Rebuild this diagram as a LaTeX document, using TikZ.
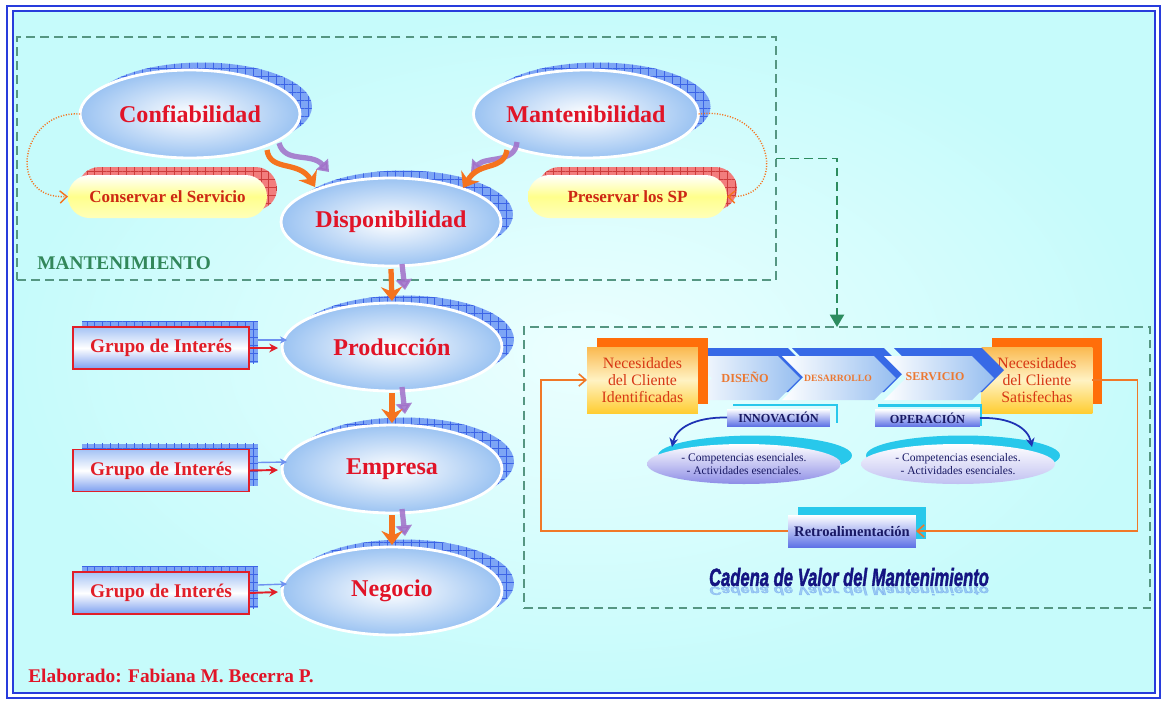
\documentclass[tikz,border=0pt]{standalone}
\usepackage{fontspec}
\usepackage{graphicx}
\setmainfont{Liberation Serif}
\newfontfamily\titlefont{Liberation Sans}[BoldItalicFeatures={FakeBold=2}]
\usetikzlibrary{arrows.meta,calc,patterns.meta,shapes.geometric,shadows}

\definecolor{bgcyan}{RGB}{198,251,251}
\definecolor{bglight}{RGB}{236,255,255}
\definecolor{framec}{RGB}{40,60,220}
\definecolor{dashc}{RGB}{85,150,130}
\definecolor{greenc}{RGB}{45,140,95}
\definecolor{ellblue}{RGB}{155,195,242}
\definecolor{shblue}{RGB}{125,165,245}
\definecolor{shline}{RGB}{60,100,230}
\definecolor{shred}{RGB}{242,125,125}
\definecolor{shredline}{RGB}{205,60,60}
\definecolor{redtxt}{RGB}{225,20,40}
\definecolor{pilltxt}{RGB}{205,40,20}
\definecolor{pillmid}{RGB}{255,255,140}
\definecolor{oarr}{RGB}{245,115,30}
\definecolor{parr}{RGB}{160,110,200}
\definecolor{mantgreen}{RGB}{50,135,90}
\definecolor{grtop}{RGB}{165,195,245}
\definecolor{grbot}{RGB}{125,160,240}
\definecolor{grred}{RGB}{225,30,40}
\definecolor{ntxt}{RGB}{215,55,20}
\definecolor{ntop}{RGB}{250,185,80}
\definecolor{nmid}{RGB}{255,242,195}
\definecolor{nbot}{RGB}{255,205,50}
\definecolor{norange}{RGB}{255,110,10}
\definecolor{chevblue}{RGB}{150,190,240}
\definecolor{chevsh}{RGB}{55,105,230}
\definecolor{chevtxt}{RGB}{235,120,50}
\definecolor{navy}{RGB}{25,25,100}
\definecolor{boxblue}{RGB}{95,115,230}
\definecolor{cyanl}{RGB}{40,200,235}
\definecolor{lav}{RGB}{140,140,230}
\definecolor{fbor}{RGB}{240,120,40}
\definecolor{titlec}{RGB}{20,20,130}
\definecolor{reflc}{RGB}{60,110,230}
\definecolor{barrc}{RGB}{30,50,180}
\definecolor{lightarr}{RGB}{110,145,240}

\begin{document}
\begin{tikzpicture}[x=0.02cm,y=-0.02cm,
  hatchsh/.style n args={4}{
    general shadow={shadow xshift=#1, shadow yshift=#2, fill=#3},
    general shadow={shadow xshift=#1, shadow yshift=#2, pattern={Hatch[distance=4.5pt,line width=0.45pt]}, pattern color=#4}},
  bigell/.style={ellipse, minimum width=4.4cm, minimum height=1.76cm, inner sep=0pt, outer sep=0pt,
    hatchsh={0.24cm}{0.15cm}{shblue}{shline},
    draw=white, line width=1.6pt, inner color=white, outer color=ellblue,
    text=redtxt, font=\fontsize{13.7}{16}\selectfont\bfseries},
  pill/.style={rectangle, rounded corners=0.43cm, minimum width=3.98cm, minimum height=0.86cm,
    inner sep=0pt, outer sep=0pt, hatchsh={0.2cm}{0.16cm}{shred}{shredline},
    top color=white, bottom color=white!40!pillmid, middle color=pillmid,
    text=pilltxt, font=\fontsize{9.7}{11}\selectfont\bfseries},
  gbox/.style={rectangle, minimum width=3.52cm, minimum height=0.84cm, inner sep=0pt, outer sep=0pt,
    hatchsh={0.18cm}{0.12cm}{shblue}{shline},
    draw=grred, line width=0.8pt, top color=grtop, bottom color=grbot, middle color=white,
    text=grred, font=\fontsize{11}{13}\selectfont\bfseries},
  dashbox/.style={rectangle, draw=dashc, dash pattern=on 5pt off 3pt, line width=0.7pt, inner sep=0pt, outer sep=0pt},
  oarrow/.style={draw=oarr, line width=3pt, -{Stealth[length=8pt,width=12pt]}},
  parrow/.style={draw=parr, line width=3pt, opacity=0.85, -{Triangle[length=6pt,width=9pt]}},
  dotarr/.style={draw=oarr, line width=0.8pt, dash pattern=on 0.6pt off 0.9pt, -{Straight Barb[length=4pt,width=7pt]}},
  redarr/.style={draw=grred, line width=1.1pt, -{Stealth[length=5pt,width=5pt]}},
  bluearr/.style={draw=lightarr, line width=0.8pt, -{Stealth[length=4pt,width=4pt]}},
  nbox/.style={rectangle, minimum width=2.22cm, minimum height=1.32cm, inner sep=0pt, outer sep=0pt,
    general shadow={shadow xshift=0.2cm, shadow yshift=0.18cm, fill=norange},
    top color=ntop, bottom color=nbot, middle color=nmid,
    text=ntxt, align=center, font=\fontsize{9}{9.9}\selectfont},
  chev/.style={general shadow={shadow xshift=0.2cm, shadow yshift=0.16cm, fill=chevsh},
    left color=white, right color=chevblue},
  chevlab/.style={text=chevtxt, inner sep=0pt},
  ibox/.style={rectangle, minimum height=0.34cm, inner sep=0pt, outer sep=0pt,
    top color=white, bottom color=boxblue, text=navy, font=\fontsize{7}{8}\selectfont\bfseries},
  retrobox/.style={rectangle, minimum width=2.56cm, minimum height=0.64cm, inner sep=0pt, outer sep=0pt,
    general shadow={shadow xshift=0.2cm, shadow yshift=0.16cm, fill=cyanl},
    top color=white, bottom color=boxblue, text=navy, font=\fontsize{8.3}{10}\selectfont\bfseries},
  swoosh/.style={ellipse, minimum width=3.88cm, minimum height=0.8cm, inner sep=0pt, outer sep=0pt,
    top color=white, bottom color=lav, text=navy, align=center, font=\fontsize{6.6}{7.4}\selectfont},
  barr/.style={draw=barrc, line width=1pt, -{Stealth[length=5pt,width=5pt]}},
  fbline/.style={draw=fbor, line width=0.9pt, -{Straight Barb[length=4pt,width=7pt]}}
]
\useasboundingbox (0,0) rectangle (1164,701);
\fill[white] (0,0) rectangle (1164,701);
\shade[inner color=bglight, outer color=bgcyan] (13,11) rectangle (1155,693);
\draw[framec, line width=1.3pt] (7,6) rectangle (1160,698);
\draw[framec, line width=0.9pt] (13,11) rectangle (1155,693);

% dashed groups
\node[dashbox, minimum width=15.18cm, minimum height=4.86cm] (mbox) at (396.5,158.5) {};
\node[dashbox, minimum width=12.52cm, minimum height=5.62cm] (cbox) at (837,467.5) {};
\draw[greenc, dash pattern=on 5pt off 3pt, line width=1pt, -{Triangle[length=7pt,width=8pt]}] (mbox.east) -| (cbox.north);

% ellipses
\node[bigell] (conf) at (190,114) {Confiabilidad};
\node[bigell] (mant) at (586,114) {Mantenibilidad};
\node[bigell] (disp) at (391,222) {Disponibilidad};
\node[bigell] (prod) at (392,347) {Producción};
\node[bigell] (emp) at (392,469) {Empresa};
\node[bigell] (neg) at (392,591) {Negocio};

% pills
\node[pill] (cons) at (167.5,196.5) {Conservar el Servicio};
\node[pill] (pres) at (627.5,196.5) {Preservar los SP};

% grupo boxes
\node[gbox] (g1) at (161,348) {Grupo de Interés};
\node[gbox] (g2) at (161,470.5) {Grupo de Interés};
\node[gbox] (g3) at (161,593) {Grupo de Interés};

% dotted arcs
\draw[dotarr] (conf.west) .. controls (20,110) and (5,200) .. (cons.west);
\draw[dotarr] (mant.east) .. controls (775,105) and (790,200) .. (pres.east);

% wavy arrows into Disponibilidad
\draw[parrow] ($(conf.center)+(89,29)$) .. controls ($(conf.center)+(95,50)$) and ($(disp.center)+(-80,-70)$) .. ($(disp.center)+(-62,-50)$);
\draw[oarrow] ($(conf.center)+(77,36)$) .. controls ($(conf.center)+(80,58)$) and ($(disp.center)+(-92,-62)$) .. ($(disp.center)+(-76,-35)$);
\draw[parrow] ($(mant.center)+(-69,28)$) .. controls ($(mant.center)+(-71,50)$) and ($(disp.center)+(95,-66)$) .. ($(disp.center)+(80,-50)$);
\draw[oarrow] ($(mant.center)+(-79,36)$) .. controls ($(mant.center)+(-83,58)$) and ($(disp.center)+(89,-62)$) .. ($(disp.center)+(72,-34)$);

% down arrows
\draw[parrow] ($(disp.center)+(11,42)$) -- ($(prod.center)+(13,-57)$);
\draw[oarrow] ($(disp.center)+(0,47)$) -- ($(prod.center)+(0,-46)$);
\draw[parrow] ($(prod.center)+(10,40)$) -- ($(emp.center)+(13,-55)$);
\draw[oarrow] ($(prod.center)+(0,46)$) -- ($(emp.center)+(0,-46)$);
\draw[parrow] ($(emp.center)+(10,40)$) -- ($(neg.center)+(13,-55)$);
\draw[oarrow] ($(emp.center)+(0,46)$) -- ($(neg.center)+(0,-46)$);

% grupo arrows
\foreach \g/\e in {g1/prod,g2/emp,g3/neg}{
  \draw[bluearr] ($(\g.east)+(9,-8)$) -- ($(\e.west)+(5,-7)$);
  \draw[redarr] (\g.east) -- ($(\e.west)+(-4,1)$);
}

% labels
\node[anchor=west, text=mantgreen, font=\fontsize{11}{13}\selectfont\bfseries, inner sep=0pt] (mtxt) at (37,263) {MANTENIMIENTO};
\node[anchor=west, text=redtxt, font=\fontsize{11}{13}\selectfont\bfseries, inner sep=0pt] (elab) at (28,676) {Elaborado: Fabiana M. Becerra P.};

% value chain
\node[nbox] (rbox) at (1037,380) {Necesidades\\del Cliente\\Satisfechas};
\path[chev] (690,356) -- (778,356) -- (800,378) -- (778,400) -- (690,400) -- (712,378) -- cycle;
\path[chev] (782,356) -- (874,356) -- (896,378) -- (874,400) -- (782,400) -- (804,378) -- cycle;
\path[chev] (884,356) -- (972,356) -- (994,378) -- (972,400) -- (884,400) -- (906,378) -- cycle;
\node[nbox] (lbox) at (642.5,380) {Necesidades\\del Cliente\\Identificadas};

\node[chevlab, font=\fontsize{7}{8}\selectfont\bfseries] (dis) at (745,377) {DISEÑO};
\node[chevlab, font=\fontsize{5.5}{6}\selectfont\bfseries] (des) at (838,378) {DESARROLLO};
\node[chevlab, font=\fontsize{6.8}{8}\selectfont\bfseries] (ser) at (935,377) {SERVICIO};

\node[ibox, minimum width=2.06cm] (innov) at (778.5,417.5) {INNOVACIÓN};
\node[ibox, minimum width=2.1cm] (oper) at (927.5,418) {OPERACIÓN};
\draw[cyanl, line width=1.6pt] ($(innov.north west)+(6,-4)$) -- ($(innov.north east)+(7,-4)$) -- ($(innov.south east)+(7,-3)$);
\draw[cyanl, line width=1.6pt] ($(oper.north west)+(3,-4)$) -- ($(oper.north east)+(1,-4)$) -- ($(oper.south east)+(1,-1)$);

\node[swoosh, general shadow={shadow xshift=0.22cm, shadow yshift=0.17cm, fill=cyanl}] (sw1) at (744,464) {- Competencias esenciales.\\- Actividades esenciales.};
\node[swoosh, bottom color=lav!55!white, general shadow={shadow xshift=0.1cm, shadow yshift=0.17cm, fill=cyanl}] (sw2) at (958,464) {- Competencias esenciales.\\- Actividades esenciales.};

\coordinate (a1) at (672,447);
\coordinate (a2) at (1032,447);
\draw[barr] (innov.west) .. controls (695,417) and (676,428) .. (a1);
\draw[barr] (oper.east) .. controls (1010,417) and (1028,428) .. (a2);

\node[retrobox] (retro) at (852,531) {Retroalimentación};
\draw[fbline] (rbox.east) -- ++(45,0) |- (retro.east);
\draw[fbline] (retro.west) -- ++(-247,0) |- (lbox.west);

\node[text=reflc, opacity=0.35, inner sep=0pt, font=\titlefont\bfseries\itshape\fontsize{13.5}{16}\selectfont] (refl) at (849,591) {\scalebox{0.7}[-0.5]{Cadena de Valor del Mantenimiento}};
\node[text=titlec, inner sep=0pt, font=\titlefont\bfseries\itshape\fontsize{13.5}{16}\selectfont] (title) at (849,577) {\scalebox{0.7}[1.05]{Cadena de Valor del Mantenimiento}};
\end{tikzpicture}
\end{document}
